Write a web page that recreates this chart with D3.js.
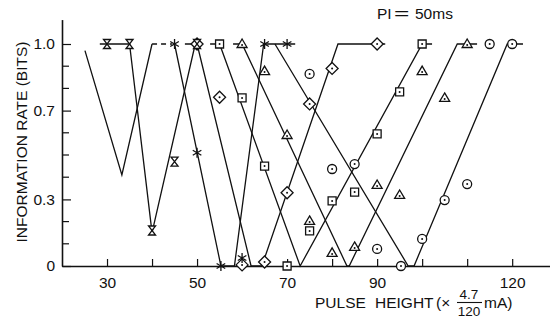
<!DOCTYPE html>
<html>
<head>
<meta charset="utf-8">
<script src="https://cdn.jsdelivr.net/npm/d3@7"></script>
<style>
  body { margin: 0; background: #fff; }
  text { font-family: "Liberation Sans", Arial, sans-serif; fill: #111; }
</style>
</head>
<body>
<div id="chart"></div>
<script>
// axis ticks
const xTicks = [30, 40, 50, 60, 70, 80, 90, 100, 110, 120];
const xLabels = [30, 50, 70, 90, 120];
const yMinor = [0.1, 0.2, 0.4, 0.5, 0.6, 0.8, 0.9];
const yLabels = [0, 0.3, 0.7, 1.0];

// hand-fitted lines, [pulse height, bits]
const linePlain = [[25.1, 0.97], [33.3, 0.41], [40, 1.0]];
const lineDashed = [[40, 1.0], [44.5, 1.0]];
const lineHourglass = [[28.4, 1], [35, 1], [40, 0.15], [49.6, 1]];
const lineAsterisk = [[45, 1], [55.3, 0], [58.3, 0], [64.8, 1], [71.8, 1]];
const lineDiamond = [[47.3, 1], [50, 1], [62, 0], [64.4, 0], [81.3, 1], [91.8, 1]];
const lineSquare = [[52.9, 1], [55, 1], [72.9, 0], [100, 1], [102.2, 1]];
const lineTriangle = [[58, 1], [60, 1], [83.3, 0], [83.8, 0], [107.8, 1], [112.2, 1]];
const lineCircle = [[67.3, 1], [96.9, 0], [98.2, 0], [118.9, 1], [122.4, 1]];

// measured points
const ptsHourglass = [[30, 1.0], [35, 1.0], [40, 0.16], [45, 0.47], [50, 1.0]];
const ptsAsterisk = [[45, 1.0], [50, 0.51], [55.3, 0.0], [60, 0.036], [65, 1.0], [70, 1.0]];
const ptsDiamond = [[50, 1.0], [55, 0.76], [60, 0.005], [65, 0.018], [70, 0.33], [75, 0.73], [80, 0.89], [90, 1.0]];
const ptsSquare = [[55, 1.0], [60, 0.757], [65, 0.45], [70, 0.0], [75, 0.158], [80, 0.293], [85, 0.333], [90, 0.595], [95, 0.784], [100, 1.0]];
const ptsTriangle = [[60, 1.0], [65, 0.878], [70, 0.59], [75, 0.203], [80, 0.059], [85, 0.086], [90, 0.365], [95, 0.32], [100, 0.878], [105, 0.757], [110, 1.0]];
const ptsCircle = [[75, 0.865], [80, 0.437], [85, 0.459], [90, 0.077], [95.3, 0.0], [100, 0.122], [105, 0.297], [110, 0.369], [115, 1.0], [120, 1.0]];

const width = 550, height = 322;
const ink = '#111';

const svg = d3.select('#chart').append('svg')
  .attr('width', width)
  .attr('height', height);

const x = d3.scaleLinear().domain([20, 128.4]).range([62, 550]);
const y = d3.scaleLinear().domain([0, 1]).range([266, 44]);

// x axis
const xAxis = svg.append('g')
  .attr('transform', `translate(0,${y(0)})`)
  .call(d3.axisBottom(x)
    .tickValues(xTicks)
    .tickSizeInner(-7)
    .tickSizeOuter(0)
    .tickPadding(11)
    .tickFormat(d => xLabels.includes(d) ? d : ''));
xAxis.select('.domain').attr('stroke', ink).attr('stroke-width', 1.6);
xAxis.selectAll('.tick line').attr('stroke', ink).attr('stroke-width', 1.2);
xAxis.selectAll('text').attr('font-size', 15.5).attr('fill', ink)
  .style('font-family', '"Liberation Sans", Arial, sans-serif');

// y axis (line runs a little above 1.0)
const yAx = y.copy().domain([0, 1.11]).range([y(0), y(1.11)]);
const yAxis = svg.append('g')
  .attr('transform', `translate(${x(20)},0)`)
  .call(d3.axisLeft(yAx)
    .tickValues(yLabels)
    .tickSizeInner(-9)
    .tickSizeOuter(0)
    .tickPadding(7)
    .tickFormat(d => d === 0 ? '0' : d3.format('.1f')(d)));
yAxis.select('.domain').attr('stroke', ink).attr('stroke-width', 1.6);
yAxis.selectAll('.tick line').attr('stroke', ink).attr('stroke-width', 1.2);
yAxis.selectAll('text').attr('font-size', 15.5).attr('fill', ink)
  .style('font-family', '"Liberation Sans", Arial, sans-serif');

svg.append('g').selectAll('line')
  .data(yMinor)
  .join('line')
  .attr('x1', x(20)).attr('x2', x(20) + 7)
  .attr('y1', d => y(d)).attr('y2', d => y(d))
  .attr('stroke', ink).attr('stroke-width', 1.2);

// lines
const lineGen = d3.line().x(d => x(d[0])).y(d => y(d[1]));
const lines = [linePlain, lineHourglass, lineAsterisk, lineDiamond, lineSquare, lineTriangle, lineCircle];
svg.append('g').selectAll('path')
  .data(lines)
  .join('path')
  .attr('d', lineGen)
  .attr('fill', 'none')
  .attr('stroke', ink)
  .attr('stroke-width', 1.3);

svg.append('path')
  .attr('d', lineGen(lineDashed))
  .attr('fill', 'none')
  .attr('stroke', ink)
  .attr('stroke-width', 1.3)
  .attr('stroke-dasharray', '5,4');

// markers
const shapes = {
  hourglass: 'M-3.5,-4.5H3.5L-3.5,4.5H3.5Z',
  diamond: 'M0,-6L6,0L0,6L-6,0Z',
  square: 'M-4,-4H4V4H-4Z',
  triangle: 'M0,-5L5,3.5H-5Z',
  circle: 'M4.5,0A4.5,4.5 0 1,1 -4.5,0A4.5,4.5 0 1,1 4.5,0Z',
  asterisk: 'M0,-5V5M-4.3,-2.5L4.3,2.5M-4.3,2.5L4.3,-2.5'
};
const series = [
  { pts: ptsDiamond, shape: 'diamond', dot: [0, 0] },
  { pts: ptsHourglass, shape: 'hourglass', dot: null },
  { pts: ptsAsterisk, shape: 'asterisk', dot: null },
  { pts: ptsSquare, shape: 'square', dot: [0, 0] },
  { pts: ptsTriangle, shape: 'triangle', dot: [0, 1] },
  { pts: ptsCircle, shape: 'circle', dot: [0, 0] }
];

series.forEach(s => {
  const g = svg.append('g').selectAll('g')
    .data(s.pts)
    .join('g')
    .attr('transform', d => `translate(${x(d[0])},${y(d[1])})`);
  g.append('path')
    .attr('d', shapes[s.shape])
    .attr('fill', s.shape === 'asterisk' ? 'none' : '#fff')
    .attr('stroke', ink)
    .attr('stroke-width', 1.3);
  if (s.dot) {
    g.append('circle')
      .attr('cx', s.dot[0]).attr('cy', s.dot[1])
      .attr('r', 1)
      .attr('fill', ink);
  }
});

// title, with the wide equals sign of the original
const title = svg.append('g').attr('font-size', 15.5);
title.append('text').attr('x', 377).attr('y', 19).text('PI');
title.append('text').attr('transform', 'translate(394,19) scale(1.7,1)').text('=');
title.append('text').attr('x', 415).attr('y', 19).text('50ms');

svg.append('text')
  .attr('transform', `translate(27,${142}) rotate(-90)`)
  .attr('text-anchor', 'middle')
  .attr('font-size', 15.5)
  .text('INFORMATION RATE (BITS)');

const xl = svg.append('g').attr('font-size', 15.5);
xl.append('text').attr('x', 315).attr('y', 308).text('PULSE');
xl.append('text').attr('x', 375).attr('y', 308).text('HEIGHT');
xl.append('text').attr('x', 436).attr('y', 308).text('(×');
xl.append('text').attr('x', 469).attr('y', 299).attr('text-anchor', 'middle').attr('font-size', 13.5).text('4.7');
xl.append('line').attr('x1', 457).attr('x2', 482).attr('y1', 302.5).attr('y2', 302.5)
  .attr('stroke', ink).attr('stroke-width', 1.1);
xl.append('text').attr('x', 469).attr('y', 316).attr('text-anchor', 'middle').attr('font-size', 13.5).text('120');
xl.append('text').attr('x', 484).attr('y', 308).text('mA)');
</script>
</body>
</html>
